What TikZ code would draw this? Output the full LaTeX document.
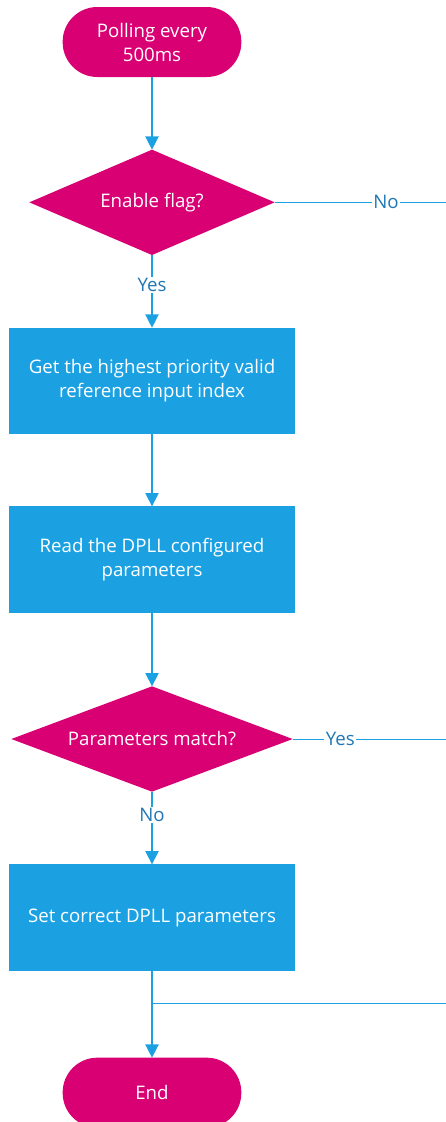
\documentclass[tikz,border=0pt]{standalone}
\usepackage{fontspec}
\setmainfont{Open Sans}
\usetikzlibrary{arrows.meta,calc,positioning,shapes.geometric}
\definecolor{magent}{RGB}{216,0,115}
\definecolor{cyanbox}{RGB}{27,161,226}
\definecolor{labelblue}{RGB}{31,120,180}
\tikzset{
  >={Triangle[width=10pt,length=10pt]},
  flow/.style={
    draw=cyanbox, line width=1pt
  },
  branch/.style={
    draw=cyanbox, line width=0.75pt
  },
  terminal/.style={
    fill=magent, rounded corners=26pt,
    text=white, align=center, font=\fontsize{14}{18}\selectfont,
    minimum width=134pt, minimum height=52.5pt, inner sep=0pt, outer sep=0pt
  },
  decision/.style={
    diamond, aspect=2.4, fill=magent,
    text=white, font=\fontsize{14}{18}\selectfont,
    minimum height=79pt, inner sep=0pt, outer sep=0pt
  },
  process/.style={
    fill=cyanbox,
    text=white, align=center, font=\fontsize{14}{18}\selectfont,
    minimum width=214pt, minimum height=80pt, inner sep=0pt, outer sep=0pt
  },
  onarrow/.style={
    fill=white, text=labelblue, font=\fontsize{14}{18}\selectfont,
    inner sep=1pt
  }
}
\begin{document}
\begin{tikzpicture}
  \useasboundingbox (0,0) rectangle (334.5pt,-841.5pt);

  \node[terminal] (start) at (114pt,-31.5pt) {Polling every\\500ms};
  \node[decision,minimum width=184pt,below=54.5pt of start] (flag) {Enable flag?};
  \node[process,below=54.5pt of flag] (getidx) {Get the highest priority valid\\reference input index};
  \node[process,below=54pt of getidx] (readpar) {Read the DPLL configured\\parameters};
  \node[decision,minimum width=211pt,below=55pt of readpar] (match) {Parameters match?};
  \node[process,below=54.5pt of match] (setpar) {Set correct DPLL parameters};
  \node[terminal,below=65pt of setpar] (end) {End};

  \coordinate (noout) at (334.5pt,0 |- flag.east);
  \coordinate (yesout) at (334.5pt,0 |- match.east);
  \coordinate (join) at ($(setpar.south)!0.37!(end.north)$);
  \coordinate (joinout) at (334.5pt,0 |- join);

  \draw[flow,->] (start) -- (flag);
  \draw[flow,->] (flag) -- node[onarrow,pos=0.41] {Yes} (getidx);
  \draw[flow,->] (getidx) -- (readpar);
  \draw[flow,->] (readpar) -- (match);
  \draw[flow,->] (match) -- node[onarrow,pos=0.32] {No} (setpar);
  \draw[flow,->] (setpar) -- (end);

  \draw[branch] (flag.east) -- node[onarrow,pos=0.65] {No} (noout);
  \draw[branch] (match.east) -- node[onarrow,pos=0.31] {Yes} (yesout);
  \draw[branch] (join) -- (joinout);
\end{tikzpicture}
\end{document}
